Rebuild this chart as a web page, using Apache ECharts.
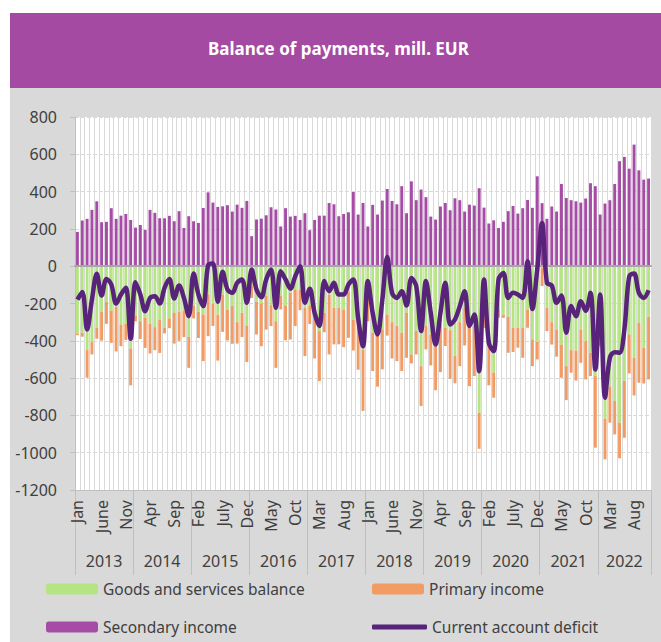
<!DOCTYPE html>
<html>
<head>
<meta charset="utf-8">
<script src="https://cdn.jsdelivr.net/npm/echarts@6/dist/echarts.min.js"></script>
<style>
  body { margin: 0; background: #fff; }
  #panel { position: absolute; left: 10px; top: 13px; width: 651px; height: 629px; background: #d9d9d9; }
  #band { position: absolute; left: 10px; top: 13px; width: 651px; height: 75px; background: #a44aa3; }
  #chart { position: absolute; left: 0; top: 0; width: 661px; height: 642px; }
</style>
</head>
<body>
<div id="panel"></div>
<div id="band"></div>
<div id="chart"></div>
<script>
const years = ['2013', '2014', '2015', '2016', '2017', '2018', '2019', '2020', '2021', '2022'];
const monthNames = ['Jan', 'Feb', 'Mar', 'Apr', 'May', 'June', 'July', 'Aug', 'Sep', 'Oct', 'Nov', 'Dec'];
const monthsInLastYear = 11; // Jan - Nov 2022

const goodsServices = [
  -361, -357, -450, -407, -330, -245, -191, -238, -218, -313, -307, -441,
  -265, -295, -277, -307, -327, -286, -330, -280, -250, -246, -241, -379,
  -210, -245, -259, -152, -200, -260, -152, -232, -214, -300, -250, -318,
  -107, -191, -200, -160, -209, -295, -157, -211, -143, -125, -125, -223,
  -210, -250, -348, -250, -152, -223, -223, -232, -139, -286, -290, -446,
  -125, -357, -348, -339, -259, -300, -321, -357, -250, -473, -348, -536,
  -321, -366, -429, -307, -330, -343, -482, -300, -223, -330, -321, -786,
  -179, -393, -571, -230, -259, -271, -330, -330, -330, -232, -393, -405,
  -10, -223, -300, -339, -420, -536, -450, -452, -339, -402, -464, -589,
  -286, -818, -646, -723, -839, -616, -366, -491, -304, -438, -271
];
const primaryIncome = [
  -9, -21, -148, -66, -59, -154, -118, -173, -239, -116, -89, -198,
  -30, -95, -161, -161, -123, -179, -30, -52, -165, -154, -139, -166,
  -70, -140, -250, -223, -120, -246, -200, -166, -202, -115, -130, -196,
  -63, -175, -229, -180, -112, -250, -75, -186, -250, -196, -111, -259,
  -100, -245, -268, -104, -321, -196, -196, -202, -245, -166, -265, -330,
  -170, -205, -298, -214, -113, -195, -188, -205, -241, -48, -125, -214,
  -125, -166, -236, -261, -98, -261, -146, -236, -202, -313, -268, -193,
  -152, -246, -134, -46, -18, -193, -130, -107, -161, -98, -143, -95,
  -96, -125, -120, -146, -178, -182, -121, -161, -179, -205, -125, -384,
  -143, -218, -193, -179, -191, -304, -209, -202, -321, -191, -336
];
const secondaryIncome = [
  184, 245, 254, 302, 348, 236, 238, 311, 254, 271, 280, 248,
  207, 221, 195, 302, 286, 257, 257, 270, 241, 295, 205, 268,
  241, 232, 312, 396, 341, 318, 321, 327, 293, 330, 313, 350,
  161, 250, 255, 273, 316, 304, 213, 311, 266, 270, 248, 284,
  193, 248, 271, 271, 339, 332, 268, 280, 289, 398, 277, 339,
  213, 329, 277, 352, 414, 350, 332, 429, 284, 455, 354, 411,
  370, 266, 250, 320, 339, 300, 364, 354, 293, 330, 325, 418,
  314, 229, 246, 205, 238, 295, 323, 282, 311, 355, 313, 482,
  338, 254, 320, 293, 441, 366, 354, 348, 341, 363, 445, 429,
  277, 336, 354, 441, 563, 586, 523, 652, 514, 464, 470
];
const currentAccount = [
  -179, -138, -339, -179, -41, -157, -68, -98, -200, -152, -116, -389,
  -86, -152, -241, -170, -161, -200, -116, -68, -173, -104, -170, -268,
  -39, -152, -214, 5, 15, -190, -30, -125, -143, -89, -71, -196,
  -18, -125, -166, -71, -18, -223, -27, -71, -120, -54, 0, -196,
  -121, -250, -321, -80, -134, -89, -152, -152, -98, -71, -280, -429,
  -80, -250, -366, -179, 50, -143, -170, -134, -211, -63, -107, -348,
  -80, -250, -420, -250, -89, -313, -286, -214, -134, -321, -259, -563,
  -71, -411, -455, -71, -36, -170, -143, -152, -170, 27, -229, -15,
  232, -89, -104, -196, -157, -357, -214, -268, -188, -239, -143, -554,
  -152, -705, -491, -461, -464, -339, -54, -39, -143, -170, -129
];

const categories = [];
years.forEach((y, yi) => {
  const n = yi === years.length - 1 ? monthsInLastYear : 12;
  for (let m = 0; m < n; m++) categories.push(monthNames[m]);
});
const total = categories.length;

// year group separators and label centres on a 0..total value axis
const yearTicks = [];
const yearCentres = [];
years.forEach((y, yi) => {
  const start = yi * 12;
  const end = Math.min(start + 12, total);
  yearTicks.push(start);
  yearCentres.push((start + end) / 2);
});
yearTicks.push(total);

const textColor = '#404040';
const font = 'Noto Sans';

const chart = echarts.init(document.getElementById('chart'), null, { renderer: 'svg' });

const legendBase = {
  orient: 'horizontal',
  padding: 0,
  itemWidth: 52,
  itemHeight: 11,
  itemGap: 5,
  textStyle: { color: textColor, fontSize: 15.5, fontFamily: font }
};

const option = {
  backgroundColor: 'transparent',
  animation: false,
  title: {
    text: 'Balance of payments, mill. EUR',
    left: 208,
    top: 40,
    padding: 0,
    textStyle: { color: '#fff', fontSize: 17, fontWeight: 'bold', fontFamily: font }
  },
  legend: [
    Object.assign({}, legendBase, { data: ['Goods and services balance'], left: 46, top: 581 }),
    Object.assign({}, legendBase, { data: ['Primary income'], left: 372, top: 581 }),
    Object.assign({}, legendBase, { data: ['Secondary income'], left: 46, top: 619 }),
    Object.assign({}, legendBase, {
      data: [{ name: 'Current account deficit', icon: 'roundRect' }],
      left: 372, top: 619, itemWidth: 55, itemHeight: 5
    })
  ],
  grid: {
    left: 75,
    top: 117,
    right: 10,
    bottom: 152,
    show: true,
    backgroundColor: '#fff',
    borderWidth: 0
  },
  xAxis: [
    {
      // month labels at the bottom of the plot
      type: 'category',
      data: categories,
      position: 'bottom',
      axisLine: { onZero: false, lineStyle: { color: '#bfbfbf', width: 1 } },
      axisTick: { interval: 0, length: 50, lineStyle: { color: '#f2f2f2' } },
      axisLabel: {
        interval: 4,
        rotate: 90,
        margin: 10,
        color: textColor,
        fontSize: 16,
        fontFamily: font
      },
      splitLine: { show: true, interval: 0, lineStyle: { color: '#d9d9d9', width: 1 } }
    },
    {
      // axis line crossing at zero
      type: 'category',
      data: categories,
      position: 'bottom',
      z: 5,
      axisLine: { onZero: true, onZeroAxisIndex: 0, lineStyle: { color: '#a6a6a6', width: 2 } },
      axisTick: { interval: 0, length: 5, lineStyle: { color: '#bfbfbf' } },
      axisLabel: { show: false },
      splitLine: { show: false }
    },
    {
      // year groups
      type: 'value',
      min: 0,
      max: total,
      position: 'bottom',
      axisLine: { show: false, onZero: false },
      axisTick: { show: true, customValues: yearTicks, length: 85, lineStyle: { color: '#bfbfbf' } },
      axisLabel: {
        customValues: yearCentres,
        margin: 63,
        color: textColor,
        fontSize: 16,
        fontFamily: font,
        formatter: v => years[Math.floor(v / 12)]
      },
      splitLine: { show: false }
    }
  ],
  yAxis: {
    type: 'value',
    min: -1200,
    max: 800,
    interval: 200,
    axisLine: { show: true, lineStyle: { color: '#bfbfbf' } },
    axisTick: { show: true, length: 5, lineStyle: { color: '#bfbfbf' } },
    axisLabel: {
      color: textColor,
      fontSize: 16,
      fontFamily: font,
      margin: 18,
      formatter: v => String(v)
    },
    splitLine: { lineStyle: { color: '#d9d9d9', type: 'dashed' } }
  },
  series: [
    {
      name: 'Goods and services balance',
      type: 'bar',
      stack: 'bop',
      barWidth: '60%',
      data: goodsServices,
      itemStyle: { color: '#b5e483' }
    },
    {
      name: 'Primary income',
      type: 'bar',
      stack: 'bop',
      data: primaryIncome,
      itemStyle: { color: '#f29b62' }
    },
    {
      name: 'Secondary income',
      type: 'bar',
      stack: 'bop',
      data: secondaryIncome,
      itemStyle: { color: '#a64ca6' }
    },
    {
      name: 'Current account deficit',
      type: 'line',
      z: 6,
      data: currentAccount,
      symbol: 'none',
      smooth: 0.35,
      itemStyle: { color: '#57237b' },
      lineStyle: { color: '#57237b', width: 4.5 }
    }
  ]
};

chart.setOption(option);
</script>
</body>
</html>
